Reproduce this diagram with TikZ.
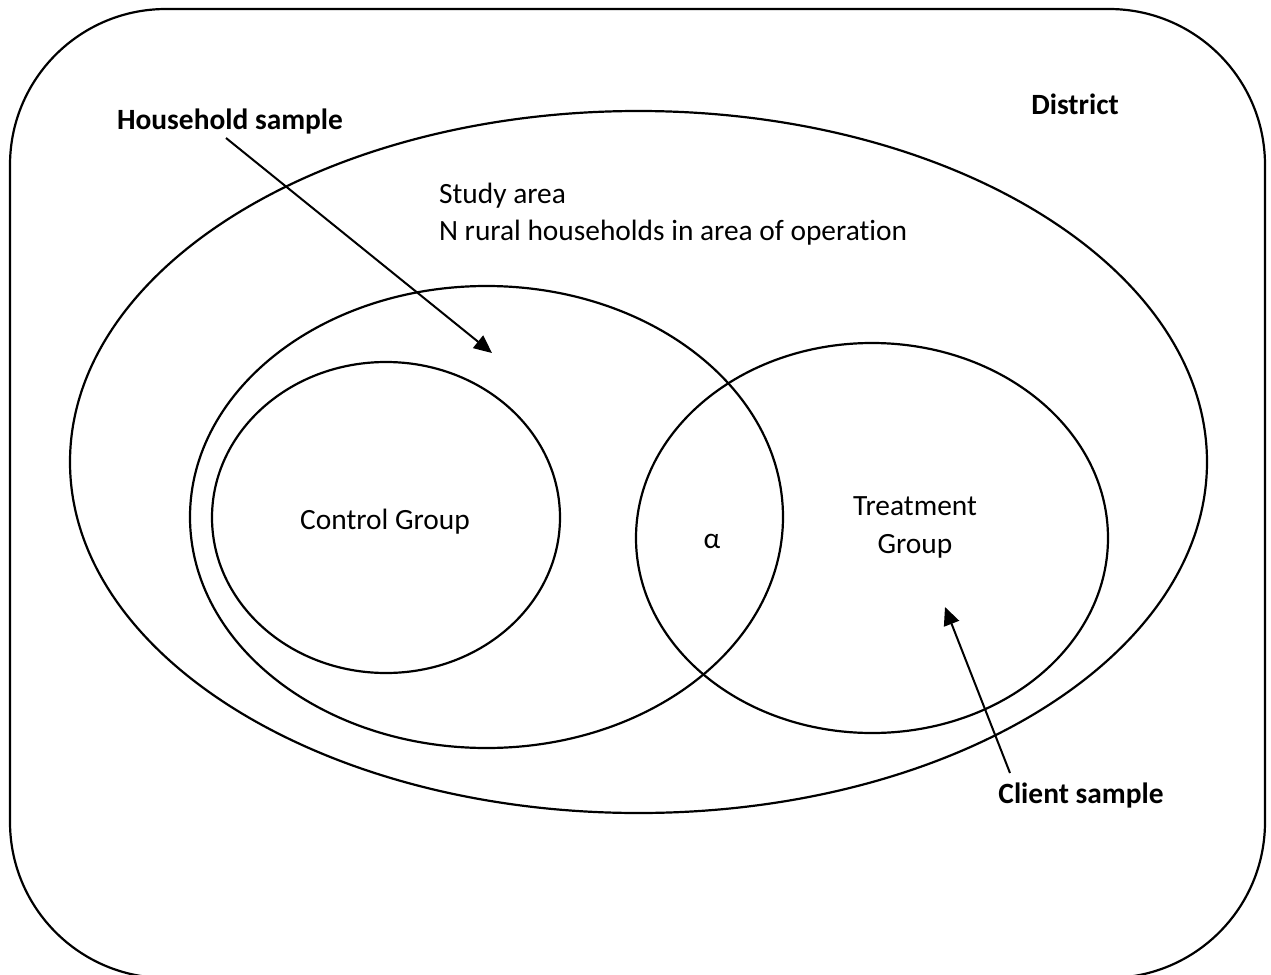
\documentclass[tikz,border=0pt]{standalone}
\usepackage{fontspec}
\setmainfont{Carlito}[Ligatures={NoCommon}]
\usetikzlibrary{shapes.geometric,arrows.meta}
\begin{document}
\begin{tikzpicture}[x=0.5pt,y=-0.5pt,
  line width=1.1pt,
  ring/.style={draw, ellipse, inner sep=0pt, outer sep=0pt},
  lbl/.style={font=\fontsize{14.7}{18.5}\selectfont, inner sep=0pt},
  blbl/.style={font=\fontsize{14.7}{18.5}\selectfont\bfseries, inner sep=0pt},
  pointer/.style={line width=1pt, -{Triangle[length=9pt,width=8pt]}}]
\useasboundingbox (0,0) rectangle (1271,975);
\draw[rounded corners=78pt] (10,9) rectangle (1265,978);
\node[ring, minimum width=568.5pt, minimum height=351pt] (district) at (638.5,462) {};
\node[ring, minimum width=296.5pt, minimum height=231pt] (household) at (486.5,517) {};
\node[ring, minimum width=174pt, minimum height=155.5pt] (control) at (386,517.5) {};
\node[ring, minimum width=236pt, minimum height=195pt] (treatment) at (872,538) {};
\node[blbl, anchor=base] (dlabel) at (1075,114) {District};
\node[blbl, anchor=base] (hs) at (230,129) {Household sample};
\node[blbl, anchor=base] (cs) at (1081,803) {Client sample};
\node[lbl, anchor=base west] (study) at (438,203) {Study area};
\node[lbl, anchor=base west] (nrural) at (438,240) {N rural households in area of operation};
\node[lbl, anchor=base] (cg) at (385,529) {Control Group};
\node[lbl, anchor=base] (alpha) at (712,548) {α};
\node[lbl, anchor=base] (tg1) at (915,515) {Treatment};
\node[lbl, anchor=base] (tg2) at (915,553) {Group};
\coordinate (hsStart) at (226,138);
\coordinate (hsTip) at (492,353);
\coordinate (csStart) at (1010,773);
\coordinate (csTip) at (945,607);
\draw[pointer] (hsStart) -- (hsTip);
\draw[pointer] (csStart) -- (csTip);
\end{tikzpicture}
\end{document}
